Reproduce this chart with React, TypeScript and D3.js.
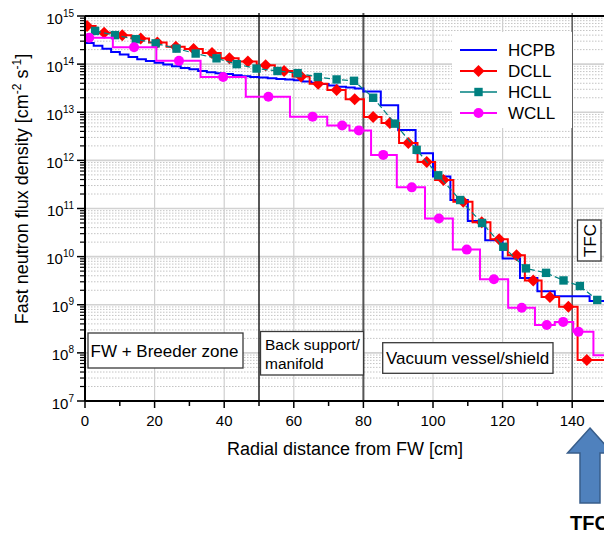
import React from 'react';
import * as d3 from 'd3';

const W = 604;
const H = 535;
const FONT = 'Liberation Sans, Arial, Helvetica, sans-serif';

// ---- axis / tick data ----
const xDomain = [0, 150];
const yDomain = [1e7, 1e15];
const xTicks = [0, 20, 40, 60, 80, 100, 120, 140];
const xMinorTicks = [10, 30, 50, 70, 90, 110, 130];
const yExponents = [7, 8, 9, 10, 11, 12, 13, 14, 15];
const regionLines = [50, 80, 140];

// ---- HCPB (blue step histogram) ----
const hcpbEdges = [0, 2.5, 5, 7.5, 10, 12.5, 15, 17.5, 20, 22.5, 25, 27.5, 30, 32.5, 35, 37.5, 40, 42.5, 45, 47.5, 50, 52.5, 55, 57.5, 60, 62.5, 65, 67.5, 70, 72.5, 75, 77.5, 80, 85, 90, 95, 100, 105, 110, 115, 120, 125, 130, 135, 145, 150];
const hcpbValues = [2.75e14, 2.4e14, 2.09e14, 1.78e14, 1.58e14, 1.41e14, 1.26e14, 1.16e14, 1.07e14, 9.8e13, 9.0e13, 8.3e13, 7.8e13, 7.2e13, 6.8e13, 6.5e13, 6.2e13, 5.9e13, 5.6e13, 5.4e13, 5.25e13, 5.1e13, 4.9e13, 4.8e13, 4.6e13, 4.35e13, 4.1e13, 3.85e13, 3.6e13, 3.4e13, 3.25e13, 3.1e13, 2.7e13, 1.4e13, 4.3e12, 1.4e12, 4.6e11, 1.5e11, 5.5e10, 2.2e10, 9.1e9, 3.6e9, 1.9e9, 1.5e9, 1.2e9];

// ---- DCLL (red, diamonds) ----
const dcllX = [0.6, 5.5, 10.7, 16, 20.8, 26.1, 31.2, 36.5, 41.5, 46.8, 51.9, 57.2, 62.1, 67, 72.3, 77.5, 82.8, 87.6, 92.9, 98.2, 103, 108.7, 114, 119, 124, 128.8, 133.6, 138.9, 144.2];
const dcllY = [6.2e14, 4.5e14, 4.0e14, 3.4e14, 2.8e14, 2.3e14, 2.05e14, 1.7e14, 1.33e14, 1.13e14, 9.5e13, 7.2e13, 5.5e13, 3.9e13, 2.9e13, 1.86e13, 8.0e12, 6.0e12, 2.3e12, 9.3e11, 3.9e11, 1.38e11, 5.2e10, 2.3e10, 1.07e10, 3.2e9, 1.45e9, 9.1e8, 7.1e7];

// ---- HCLL (teal, squares) ----
const hcllX = [2.9, 8.6, 14.6, 20.3, 26.3, 31.8, 37.8, 43.6, 49.3, 55.3, 61.1, 66.9, 72.3, 77.3, 82.8, 89.1, 95.3, 101.5, 107.8, 114.1, 120.2, 126.7, 132.5, 137.5, 142.2, 147.2];
const hcllY = [4.9e14, 4.0e14, 3.3e14, 2.7e14, 2.1e14, 1.66e14, 1.32e14, 1.0e14, 8.1e13, 7.2e13, 6.5e13, 5.4e13, 4.8e13, 4.5e13, 2.0e13, 5.8e12, 1.66e12, 4.9e11, 1.5e11, 5.0e10, 1.6e10, 5.7e9, 4.6e9, 3.2e9, 2.45e9, 1.26e9];

// ---- WCLL (magenta step, circles) ----
const wcllEdges = [0, 8, 20.5, 33.2, 46.2, 58.9, 69.6, 76, 82.2, 89.6, 97.7, 105.7, 113.5, 121.6, 129.3, 135, 140.3, 146.1, 150];
const wcllValues = [3.55e14, 2.24e14, 1.17e14, 5.4e13, 2.1e13, 8.1e12, 5.3e12, 4.2e12, 1.3e12, 2.75e11, 6.2e10, 1.4e10, 3.4e9, 8.7e8, 3.8e8, 4.4e8, 2.75e8, 8.9e7];
const wcllMarkX = [1.2, 14.1, 27, 39.7, 52.7, 65.4, 73.9, 78.7, 85.7, 93.9, 101.7, 109.7, 117.5, 125.5, 132.7, 137.4, 141.8];

const legendItems = ['HCPB', 'DCLL', 'HCLL', 'WCLL'];
const colors = { HCPB: '#0000ff', DCLL: '#ff0000', HCLL: '#008080', WCLL: '#ff00ff' };

function diamond(cx: number, cy: number, r: number) {
  return `M${cx},${cy - r}L${cx + r},${cy}L${cx},${cy + r}L${cx - r},${cy}Z`;
}

export default function App() {
  const x = d3.scaleLinear().domain(xDomain).range([85, 607]);
  const y = d3.scaleLog().domain(yDomain).range([401, 16]);
  const left = 85, top = 16, right = 607, bottom = 401;

  const allY = y.ticks();
  const isDecade = (v: number) => Math.abs(Math.log10(v) - Math.round(Math.log10(v))) < 1e-6;
  const minorY = allY.filter((v) => !isDecade(v));

  const stepLine = d3.line<[number, number]>().x((d) => x(d[0])).y((d) => y(d[1])).curve(d3.curveStepAfter);
  const midStepLine = d3.line<[number, number]>().x((d) => x(d[0])).y((d) => y(d[1])).curve(d3.curveStep);
  const linLine = d3.line<[number, number]>().x((d) => x(d[0])).y((d) => y(d[1]));

  const hcpbPts: [number, number][] = hcpbValues.map((v, i) => [hcpbEdges[i], v]);
  hcpbPts.push([hcpbEdges[hcpbEdges.length - 1], hcpbValues[hcpbValues.length - 1]]);

  const wcllPts: [number, number][] = wcllValues.map((v, i) => [wcllEdges[i], v]);
  wcllPts.push([wcllEdges[wcllEdges.length - 1], wcllValues[wcllValues.length - 1]]);
  const wcllMarks = wcllMarkX.map((mx) => {
    const i = Math.max(0, Math.min(wcllValues.length - 1, d3.bisectRight(wcllEdges, mx) - 1));
    return [mx, wcllValues[i]] as [number, number];
  });

  const dcllPts: [number, number][] = dcllX.map((v, i) => [v, dcllY[i]]);
  const dcllLinePts: [number, number][] = [[xDomain[0], dcllY[0]], ...dcllPts, [xDomain[1], dcllY[dcllY.length - 1]]];
  const hcllPts: [number, number][] = hcllX.map((v, i) => [v, hcllY[i]]);

  const legendY = [50, 71, 92, 113];

  return (
    <svg width={W} height={H} style={{ position: 'absolute', left: 0, top: 0, background: '#fff' }} fontFamily={FONT}>
      <rect x={0} y={0} width={W} height={H} fill="#fff" />
      <defs>
        <clipPath id="plotClip">
          <rect x={left} y={top - 2} width={right - left} height={bottom - top + 2} />
        </clipPath>
      </defs>

      {/* minor horizontal grid */}
      {minorY.map((v, i) => (
        <line key={'mg' + i} x1={left} x2={right} y1={y(v)} y2={y(v)} stroke="#c4c4c4" strokeWidth={1} strokeDasharray="1.5,1.5" />
      ))}
      {/* major horizontal grid */}
      {yExponents.slice(1, -1).map((e) => (
        <line key={'Mg' + e} x1={left} x2={right} y1={y(Math.pow(10, e))} y2={y(Math.pow(10, e))} stroke="#d2d2d2" strokeWidth={1.6} />
      ))}
      {/* vertical grid */}
      {xTicks.slice(1).map((t) => (
        <line key={'vg' + t} x1={x(t)} x2={x(t)} y1={top} y2={bottom} stroke="#cfcfcf" strokeWidth={1.2} />
      ))}
      {/* region lines */}
      {regionLines.map((t, i) => (
        <line key={'rl' + t} x1={x(t)} x2={x(t)} y1={top - 3} y2={bottom} stroke={i === 0 ? '#111' : '#555'} strokeWidth={i === 1 ? 2 : 1.4} />
      ))}

      <g clipPath="url(#plotClip)">
        {/* HCPB */}
        <path d={stepLine(hcpbPts) || ''} fill="none" stroke={colors.HCPB} strokeWidth={2} />
        {/* DCLL */}
        <path d={midStepLine(dcllLinePts) || ''} fill="none" stroke={colors.DCLL} strokeWidth={2} />
        {dcllPts.map((p, i) => (
          <path key={'dd' + i} d={diamond(x(p[0]), y(p[1]), 6)} fill={colors.DCLL} />
        ))}
        {/* HCLL */}
        <path d={linLine(hcllPts) || ''} fill="none" stroke={colors.HCLL} strokeWidth={1.2} strokeDasharray="6,3" />
        {hcllPts.map((p, i) => (
          <rect key={'hs' + i} x={x(p[0]) - 4.2} y={y(p[1]) - 4.2} width={8.4} height={8.4} fill={colors.HCLL} />
        ))}
        {/* WCLL */}
        <path d={stepLine(wcllPts) || ''} fill="none" stroke={colors.WCLL} strokeWidth={2} />
        {wcllMarks.map((p, i) => (
          <circle key={'wc' + i} cx={x(p[0])} cy={y(p[1])} r={5} fill={colors.WCLL} />
        ))}
      </g>

      {/* annotation boxes */}
      <g fill="#000">
        <rect x={88} y={333} width={155} height={35} fill="#fff" stroke="#3a3a3a" strokeWidth={1.3} />
        <text x={90.5} y={357} fontSize={17}>FW + Breeder zone</text>
        <rect x={260.5} y={331.5} width={103} height={43.5} fill="#fff" stroke="#3a3a3a" strokeWidth={1.3} />
        <text x={265} y={350} fontSize={15.5}>Back support/</text>
        <text x={265} y={369} fontSize={15.5}>manifold</text>
        <rect x={382.7} y={342.7} width={170.3} height={30.6} fill="#fff" stroke="#3a3a3a" strokeWidth={1.3} />
        <text x={386} y={364} fontSize={17}>Vacuum vessel/shield</text>
        <rect x={577.5} y={220} width={23.5} height={41} fill="#fff" stroke="#3a3a3a" strokeWidth={1.3} />
        <text transform="translate(595.5,240.5) rotate(-90)" textAnchor="middle" fontSize={17}>TFC</text>
      </g>

      {/* legend */}
      <rect x={452} y={32} width={120} height={96} fill="#fff" />
      {legendItems.map((name, i) => {
        const ly = legendY[i];
        const c = (colors as any)[name];
        return (
          <g key={name}>
            <line x1={460} x2={497} y1={ly} y2={ly} stroke={c} strokeWidth={name === 'HCLL' ? 1.3 : 2} />
            {name === 'DCLL' && <path d={diamond(478.5, ly, 6)} fill={c} />}
            {name === 'HCLL' && <rect x={474.3} y={ly - 4.2} width={8.4} height={8.4} fill={c} />}
            {name === 'WCLL' && <circle cx={478.5} cy={ly} r={5} fill={c} />}
            <text x={508} y={ly + 6} fontSize={17} fill="#000">{name}</text>
          </g>
        );
      })}

      {/* axes */}
      <line x1={left} x2={right} y1={bottom} y2={bottom} stroke="#000" strokeWidth={2} />
      <line x1={left} x2={right} y1={top} y2={top} stroke="#000" strokeWidth={2} />
      <line x1={left} x2={left} y1={top} y2={bottom} stroke="#000" strokeWidth={2} />
      {xTicks.map((t) => (
        <g key={'xt' + t}>
          <line x1={x(t)} x2={x(t)} y1={bottom} y2={bottom + 7} stroke="#000" strokeWidth={1.5} />
          <text x={x(t)} y={426} textAnchor="middle" fontSize={15} fill="#000">{t}</text>
        </g>
      ))}
      {xMinorTicks.map((t) => (
        <line key={'xm' + t} x1={x(t)} x2={x(t)} y1={bottom} y2={bottom + 5} stroke="#000" strokeWidth={1.5} />
      ))}
      {minorY.map((v, i) => (
        <line key={'ym' + i} x1={left - 5} x2={left} y1={y(v)} y2={y(v)} stroke="#000" strokeWidth={1.2} />
      ))}
      {yExponents.map((e) => {
        const ty = y(Math.pow(10, e));
        return (
          <g key={'yt' + e}>
            <line x1={left - 8} x2={left} y1={ty} y2={ty} stroke="#000" strokeWidth={1.5} />
            <text x={74} y={ty + 7.5} textAnchor="end" fontSize={15} fill="#000">
              <tspan>10</tspan>
              <tspan dy={-7} fontSize={10}>{e}</tspan>
            </text>
          </g>
        );
      })}

      {/* axis titles */}
      <text x={345} y={455} textAnchor="middle" fontSize={18} fill="#000">Radial distance from FW [cm]</text>
      <text transform="translate(28,189) rotate(-90)" textAnchor="middle" fontSize={18} fill="#000">
        Fast neutron flux density [cm<tspan dy={-7} fontSize={12}>-2</tspan><tspan dy={7}> s</tspan><tspan dy={-7} fontSize={12}>-1</tspan><tspan dy={7}>]</tspan>
      </text>

      {/* TFC arrow */}
      <path d="M590,428L612.5,453L600,453L600,503L580,503L580,453L567.5,453Z" fill="#4f81bd" stroke="#385d8a" strokeWidth={1.5} />
      <text x={570} y={530} fontSize={20} fontWeight="bold" fill="#000">TFC</text>
    </svg>
  );
}
